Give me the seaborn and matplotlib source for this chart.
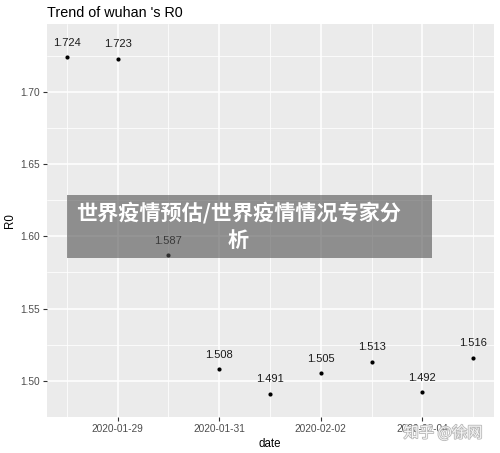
import matplotlib
matplotlib.use("Agg")
import matplotlib.pyplot as plt
import matplotlib.dates as mdates
import matplotlib.patheffects as pe
from matplotlib.patches import Rectangle
import seaborn as sns
import pandas as pd

dates = ["2020-01-28", "2020-01-29", "2020-01-30", "2020-01-31", "2020-02-01",
         "2020-02-02", "2020-02-03", "2020-02-04", "2020-02-05"]
r0 = [1.724, 1.723, 1.587, 1.508, 1.491, 1.505, 1.513, 1.492, 1.516]
labels = ["1.724", "1.723", "1.587", "1.508", "1.491", "1.505", "1.513", "1.492", "1.516"]
xticks = ["2020-01-29", "2020-01-31", "2020-02-02", "2020-02-04"]
minor_xticks = ["2020-01-28", "2020-01-30", "2020-02-01", "2020-02-03", "2020-02-05"]
yticks = [1.50, 1.55, 1.60, 1.65, 1.70]
minor_yticks = [1.475, 1.525, 1.575, 1.625, 1.675, 1.725]

df = pd.DataFrame({"date": pd.to_datetime(dates), "R0": r0, "label": labels})

sns.set_theme(style="darkgrid")
plt.rcParams['font.family'] = ['Liberation Sans', 'DejaVu Sans']

fig = plt.figure(figsize=(5.0, 4.53), dpi=100)
fig.patch.set_facecolor("white")
ax = fig.add_axes([0.093, 0.0800, 0.894, 0.8670])
ax.set_facecolor("#EBEBEB")

sns.scatterplot(data=df, x="date", y="R0", ax=ax, color="black", s=9,
                edgecolor="black", linewidth=0, zorder=3)
for d, v, t in zip(df["date"], df["R0"], df["label"]):
    ax.text(d, v + 0.01, t, ha="center", va="center", fontsize=8,
            color="#1a1a1a", zorder=4)

xnum = mdates.date2num(df["date"])
rng = xnum.max() - xnum.min()
ax.set_xlim(xnum.min() - 0.05 * rng, xnum.max() + 0.05 * rng)
ax.set_ylim(1.4800, 1.7471)

ax.set_xticks(mdates.date2num(pd.to_datetime(xticks)))
ax.set_xticklabels(xticks)
ax.set_yticks(yticks)
ax.set_yticklabels([f"{v:.2f}" for v in yticks])
ax.set_xticks(mdates.date2num(pd.to_datetime(minor_xticks)), minor=True)
ax.set_yticks(minor_yticks, minor=True)

ax.grid(which="major", color="white", linewidth=1.1)
ax.grid(which="minor", color="white", linewidth=0.55)
ax.set_axisbelow(True)
for s in ax.spines.values():
    s.set_visible(False)
ax.tick_params(which="major", length=3, width=0.8, color="#333333",
               labelsize=7.3, labelcolor="#4D4D4D", pad=2, bottom=True, left=True)
ax.tick_params(which="minor", length=0)

ax.set_xlabel("date", fontsize=8.3, color="black", labelpad=3)
ax.set_ylabel("R0", fontsize=8.3, color="black", labelpad=3)
fig.text(0.094, 0.971, "Trend of wuhan 's R0", fontsize=10.4, ha="left",
         va="center", color="black")

# overlay banner (semi-transparent)
fig.patches.append(Rectangle((0.134, 0.4305), 0.730, 0.139, transform=fig.transFigure,
                             facecolor="#505050", alpha=0.6, edgecolor="none", zorder=10))
cjk = ["Noto Sans CJK SC", "DejaVu Sans"]
fig.text(0.477, 0.530, "世界疫情预估/世界疫情情况专家分", fontsize=15.2, fontweight="bold",
         color="white", ha="center", va="center", family=cjk, zorder=11)
fig.text(0.477, 0.470, "析", fontsize=15.2, fontweight="bold",
         color="white", ha="center", va="center", family=cjk, zorder=11)

# watermark
fig.text(0.886, 0.044, "知乎 @徐网", fontsize=11, color="#f6f6f6", ha="center",
         va="center", family=cjk, zorder=11,
         path_effects=[pe.withStroke(linewidth=1.2, foreground="#b8b8b8")])

fig.savefig("out.png", dpi=100, facecolor="white")
